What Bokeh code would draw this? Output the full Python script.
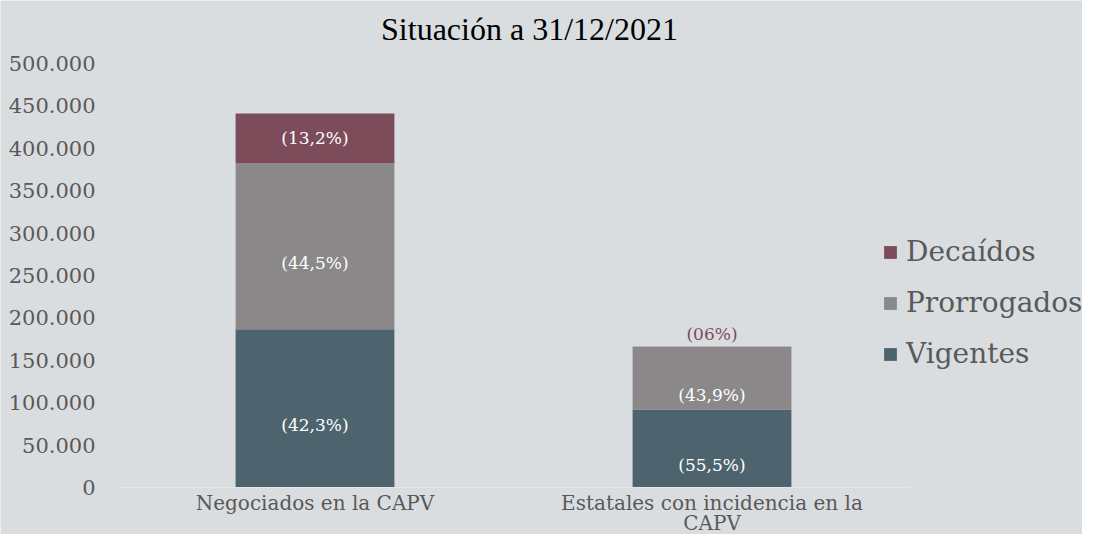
from bokeh.plotting import figure
from bokeh.models import (Range1d, Legend, LegendItem, Label, LabelSet,
                          ColumnDataSource)
from bokeh.core.properties import value
from bokeh.embed import file_html
from bokeh.resources import INLINE

# ---- data ----
categories = ["Negociados en la CAPV", "Estatales con incidencia en la CAPV"]
category_labels = ["Negociados en la CAPV", "Estatales con incidencia en la\nCAPV"]
series = ["Vigentes", "Prorrogados", "Decaídos"]
vigentes = [186500, 92100]
prorrogados = [196200, 72900]
decaidos = [58200, 1000]
pct_vigentes = ["(42,3%)", "(55,5%)"]
pct_prorrogados = ["(44,5%)", "(43,9%)"]
pct_decaidos = ["(13,2%)", "(06%)"]
y_ticks = [0, 50000, 100000, 150000, 200000, 250000, 300000, 350000, 400000, 450000, 500000]
y_tick_labels = ["0", "50.000", "100.000", "150.000", "200.000", "250.000", "300.000",
                 "350.000", "400.000", "450.000", "500.000"]
title_text = "Situación a 31/12/2021"

# ---- style ----
BG = "#D9DDE0"
colors = {"Vigentes": "#4D646E", "Prorrogados": "#8A8888", "Decaídos": "#7D4C5B"}
TXT = "#595959"
FONT = "DejaVu Serif"

W, H = 1082, 534
LEFT = 116            # pixel column where the category axis starts
BASE_Y = 487          # pixel row of the zero line
PX_PER_CAT = 397.0
PX_PER_500K = 424.0
n = len(categories)
xpos = [i + 0.5 for i in range(n)]
k = 500000 / PX_PER_500K  # data units per pixel

p = figure(x_range=Range1d(-LEFT / PX_PER_CAT, (W - LEFT) / PX_PER_CAT),
           y_range=Range1d(-(H - BASE_Y) * k, BASE_Y * k),
           width=W, height=H, output_backend="svg", toolbar_location=None,
           min_border=0)
p.title.visible = False
p.background_fill_color = BG
p.border_fill_color = BG
p.outline_line_color = None
p.xgrid.visible = False
p.ygrid.visible = False
p.xaxis.visible = False
p.yaxis.visible = False

src = ColumnDataSource(dict(x=xpos, Vigentes=vigentes, Prorrogados=prorrogados,
                            Decaídos=decaidos))
rs = p.vbar_stack(series, x="x", width=0.4, source=src,
                  color=[colors[s] for s in series], line_color=None)

# zero baseline under the categories
p.segment(x0=0, x1=n, y0=0, y1=0, line_color="#E6E4E5", line_width=1)

# ---- y tick labels ----
ysrc = ColumnDataSource(dict(x=[0] * len(y_ticks), y=y_ticks, t=y_tick_labels))
p.add_layout(LabelSet(x="x", y="y", text="t", source=ysrc, x_offset=-21,
                      text_align="right", text_baseline="middle",
                      text_font=value(FONT), text_font_size=value("21px"),
                      text_color=value(TXT)))

# ---- data labels ----
lx, ly, lt, lc, loff = [], [], [], [], []
pcts = {"Vigentes": pct_vigentes, "Prorrogados": pct_prorrogados, "Decaídos": pct_decaidos}
vals = {"Vigentes": vigentes, "Prorrogados": prorrogados, "Decaídos": decaidos}
for i in range(n):
    base = 0
    for s in series:
        v = vals[s][i]
        lx.append(xpos[i])
        lt.append(pcts[s][i])
        if v < 20000:
            ly.append(base + v)
            lc.append(colors[s])
            loff.append(13)
        else:
            ly.append(base + v / 2)
            lc.append("white")
            loff.append(0 if s == "Decaídos" else -17)
        base += v
lsrc = ColumnDataSource(dict(x=lx, y=ly, t=lt, c=lc, o=loff))
p.add_layout(LabelSet(x="x", y="y", text="t", source=lsrc, text_color="c", y_offset="o",
                      text_align="center", text_baseline="middle",
                      text_font=value(FONT), text_font_size=value("17px")))

# ---- category labels (below the zero line), one centred row per text line ----
cx, cy, ct, co = [], [], [], []
for i, lab in enumerate(category_labels):
    for j, line in enumerate(lab.split("\n")):
        cx.append(xpos[i])
        cy.append(0)
        ct.append(line)
        co.append(-15 - 20 * j)
csrc = ColumnDataSource(dict(x=cx, y=cy, t=ct, o=co))
p.add_layout(LabelSet(x="x", y="y", text="t", source=csrc, y_offset="o",
                      text_align="center", text_baseline="middle",
                      text_font=value(FONT), text_font_size=value("20px"),
                      text_color=value(TXT)))

# ---- title ----
p.add_layout(Label(x=(529 - LEFT) / PX_PER_CAT, y=(BASE_Y - 28) * k,
                   text=title_text, text_align="center",
                   text_baseline="alphabetic", text_font="Liberation Serif",
                   text_font_size="32px", text_color="black"))

# ---- legend ----
items = [LegendItem(label=s, renderers=[r]) for s, r in zip(series[::-1], rs[::-1])]
legend = Legend(items=items, location=(766 + LEFT, 117 + (H - BASE_Y)),
                background_fill_alpha=0,
                border_line_color=None, glyph_width=16, glyph_height=16,
                label_standoff=8, spacing=18, padding=0, margin=0,
                label_text_font=FONT, label_text_font_size="28px", label_text_color=TXT)
p.add_layout(legend)

open("out.html", "w").write(file_html(p, INLINE))
